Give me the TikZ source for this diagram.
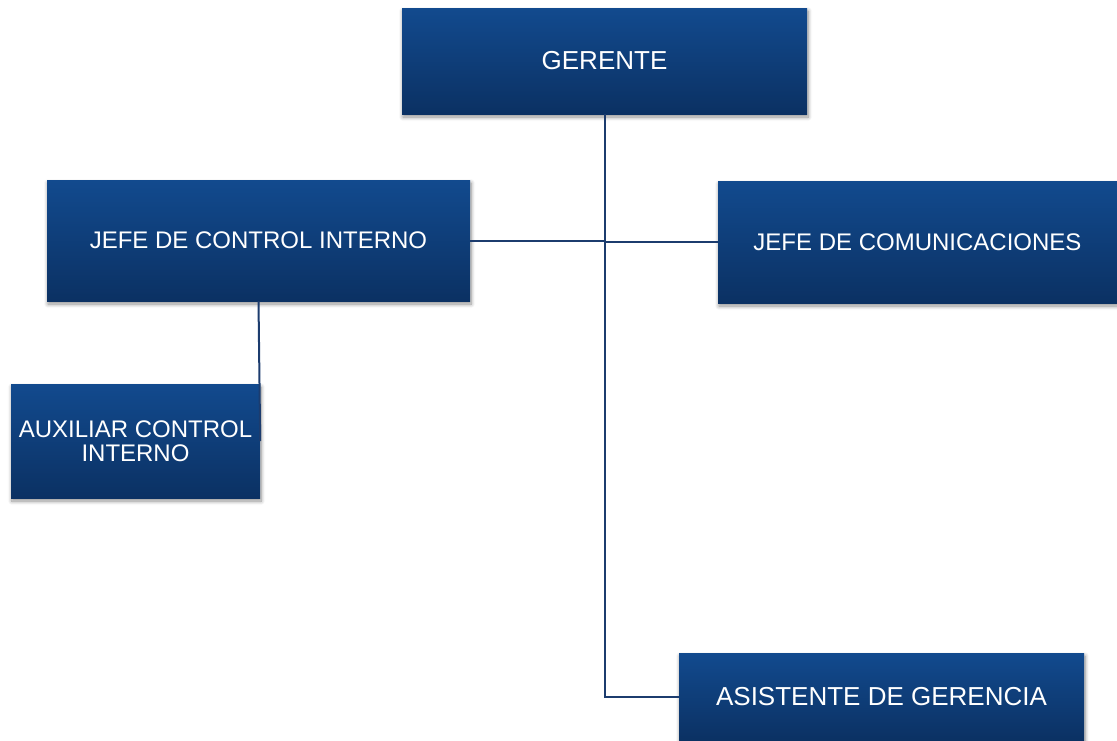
\documentclass[tikz,border=0pt]{standalone}
\usepackage{fontspec}
\setmainfont{Liberation Sans}
\usetikzlibrary{positioning,shadows,shadows.blur}

\definecolor{boxtop}{HTML}{124A8E}
\definecolor{boxbot}{HTML}{0B3163}
\definecolor{linkcol}{HTML}{1C3C6E}

\begin{document}
\begin{tikzpicture}[x=1pt,y=-1pt,
    cargo/.style={rectangle, inner sep=0pt, text=white, align=center,
      top color=boxtop, bottom color=boxbot,
      blur shadow={shadow xshift=1pt, shadow yshift=-3pt, shadow blur radius=4pt,
        shadow blur steps=8, shadow opacity=45}},
    big/.style={font=\fontsize{26}{28}\selectfont},
    small/.style={font=\fontsize{24}{24}\selectfont},
    link/.style={draw=linkcol, line width=2pt}]
  \useasboundingbox (0,0) rectangle (1117,740);
  \node[cargo, big, minimum width=405pt, minimum height=106pt]   (gerente)    at (604.5,61)  {GERENTE};
  \node[cargo, small, minimum width=423pt, minimum height=121pt] (jefe ci)    at (258.5,240.5) {JEFE DE CONTROL INTERNO};
  \node[cargo, small, minimum width=399pt, minimum height=122pt] (jefe com)   at (917.5,242) {JEFE DE COMUNICACIONES};
  \node[cargo, small, minimum width=249pt, minimum height=114pt] (auxiliar)   at (135.5,441) {AUXILIAR CONTROL\\INTERNO};
  \node[cargo, big, minimum width=405pt, minimum height=88pt]    (asistente)  at (881.5,697) {ASISTENTE DE GERENCIA};
  \draw[link] (gerente.south) |- (asistente.west);
  \draw[link] (jefe ci.east) -- (jefe ci.east -| gerente.south);
  \draw[link] (gerente.south |- jefe com.west) -- (jefe com.west);
  \draw[link] (jefe ci.south) -- (auxiliar.east);
\end{tikzpicture}
\end{document}
